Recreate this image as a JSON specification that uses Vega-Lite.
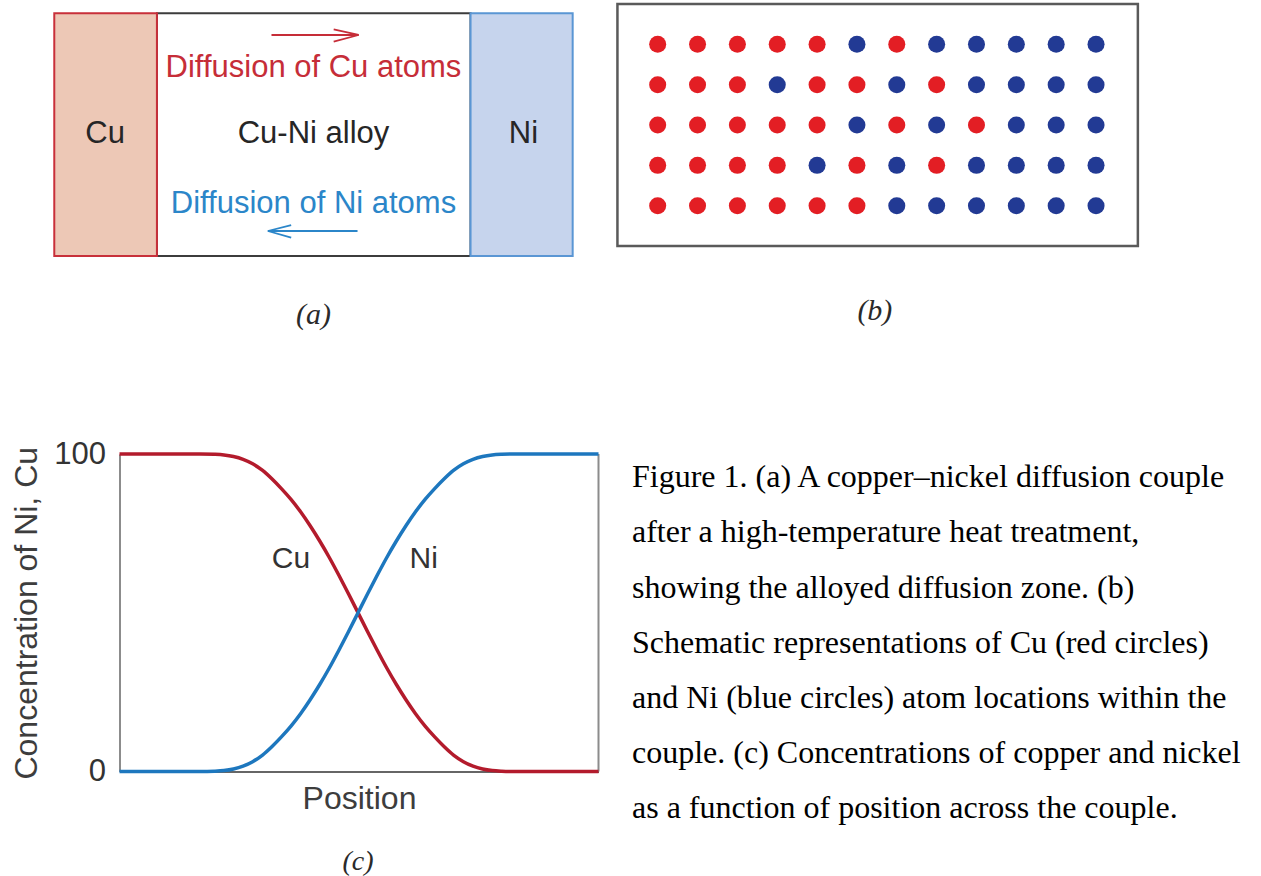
{
  "$schema": "https://vega.github.io/schema/vega-lite/v6.json",
  "padding": 0,
  "background": "white",
  "config": {"view": {"stroke": null}},
  "spacing": 98,
  "resolve": {"scale": {"color": "independent", "fill": "independent", "stroke": "independent"}},
  "vconcat": [
    {
      "bounds": "flush",
      "spacing": 0,
      "resolve": {"scale": {"color": "independent", "fill": "independent", "stroke": "independent"}},
      "hconcat": [
        {
          "width": 596,
          "height": 340,
          "layer": [
            {
              "data": {"values": [
                {"part": "alloy", "x": 19.8, "xe": 80.3, "y": 0, "ye": 100},
                {"part": "Cu", "x": 0, "xe": 19.8, "y": 0, "ye": 100},
                {"part": "Ni", "x": 80.3, "xe": 100, "y": 0, "ye": 100}
              ]},
              "mark": {"type": "rect", "strokeWidth": 2},
              "encoding": {
                "x": {"field": "x", "type": "quantitative", "scale": {"domain": [-10.47, 104.5], "nice": false, "zero": false}, "axis": null},
                "x2": {"field": "xe"},
                "y": {"field": "y", "type": "quantitative", "scale": {"domain": [-34.61, 105.48], "nice": false, "zero": false}, "axis": null},
                "y2": {"field": "ye"},
                "fill": {"field": "part", "type": "nominal", "scale": {"domain": ["alloy", "Cu", "Ni"], "range": ["#ffffff", "#EDC8B6", "#C6D4ED"]}, "legend": null},
                "stroke": {"field": "part", "type": "nominal", "scale": {"domain": ["alloy", "Cu", "Ni"], "range": ["#3c3c3c", "#C8303A", "#5A96D4"]}, "legend": null}
              }
            },
            {
              "data": {"values": [
                {"kind": "Cu", "x": 41.9, "xe": 58.7, "y": 91.06, "ye": 91.06},
                {"kind": "Cu", "x": 58.7, "xe": 53.9, "y": 91.06, "ye": 93.41},
                {"kind": "Cu", "x": 58.7, "xe": 53.9, "y": 91.06, "ye": 88.3},
                {"kind": "Ni", "x": 41.2, "xe": 58.5, "y": 10.3, "ye": 10.3},
                {"kind": "Ni", "x": 41.2, "xe": 45.7, "y": 10.3, "ye": 12.77},
                {"kind": "Ni", "x": 41.2, "xe": 45.7, "y": 10.3, "ye": 7.54}
              ]},
              "mark": {"type": "rule", "strokeWidth": 1.8},
              "encoding": {
                "x": {"field": "x", "type": "quantitative", "scale": {"domain": [-10.47, 104.5], "nice": false, "zero": false}, "axis": null},
                "x2": {"field": "xe"},
                "y": {"field": "y", "type": "quantitative", "scale": {"domain": [-34.61, 105.48], "nice": false, "zero": false}, "axis": null},
                "y2": {"field": "ye"},
                "color": {"field": "kind", "type": "nominal", "scale": {"domain": ["Cu", "Ni", "dark"], "range": ["#C62D38", "#2B86C9", "#262626"]}, "legend": null}
              }
            },
            {
              "data": {"values": [
                {"kind": "Cu", "x": 50, "y": 73.75, "label": "Diffusion of Cu atoms"},
                {"kind": "dark", "x": 50, "y": 46.56, "label": "Cu-Ni alloy"},
                {"kind": "Ni", "x": 50, "y": 17.72, "label": "Diffusion of Ni atoms"},
                {"kind": "dark", "x": 9.8, "y": 46.56, "label": "Cu"},
                {"kind": "dark", "x": 90.5, "y": 46.56, "label": "Ni"}
              ]},
              "mark": {"type": "text", "font": "Liberation Sans", "fontSize": 31, "align": "center", "baseline": "alphabetic"},
              "encoding": {
                "x": {"field": "x", "type": "quantitative", "scale": {"domain": [-10.47, 104.5], "nice": false, "zero": false}, "axis": null},
                "y": {"field": "y", "type": "quantitative", "scale": {"domain": [-34.61, 105.48], "nice": false, "zero": false}, "axis": null},
                "text": {"field": "label"},
                "color": {"field": "kind", "type": "nominal", "scale": {"domain": ["Cu", "Ni", "dark"], "range": ["#C62D38", "#2B86C9", "#262626"]}, "legend": null}
              }
            },
            {
              "data": {"values": [{"x": 50, "y": -24.3, "label": "(a)"}]},
              "mark": {"type": "text", "font": "Liberation Serif", "fontStyle": "italic", "fontSize": 30, "align": "center", "baseline": "middle", "color": "#2a2a2a"},
              "encoding": {
                "x": {"field": "x", "type": "quantitative", "scale": {"domain": [-10.47, 104.5], "nice": false, "zero": false}, "axis": null},
                "y": {"field": "y", "type": "quantitative", "scale": {"domain": [-34.61, 105.48], "nice": false, "zero": false}, "axis": null},
                "text": {"field": "label"}
              }
            }
          ]
        },
        {
          "width": 665,
          "height": 340,
          "layer": [
            {
              "data": {"values": [{"col": -0.01, "cole": 13.05, "row": 0, "rowe": 6}]},
              "mark": {"type": "rect", "filled": false, "color": "#5a5a5a", "strokeWidth": 2.5},
              "encoding": {
                "x": {"field": "col", "type": "quantitative", "scale": {"domain": [-0.548, 16.14], "nice": false, "zero": false}, "axis": null},
                "x2": {"field": "cole"},
                "y": {"field": "row", "type": "quantitative", "scale": {"domain": [-0.098, 8.328], "nice": false, "zero": false, "reverse": true}, "axis": null},
                "y2": {"field": "rowe"}
              }
            },
            {
              "data": {"values": [
                {"col": 1, "row": 1, "atom": "Cu"}, {"col": 2, "row": 1, "atom": "Cu"}, {"col": 3, "row": 1, "atom": "Cu"}, {"col": 4, "row": 1, "atom": "Cu"}, {"col": 5, "row": 1, "atom": "Cu"}, {"col": 6, "row": 1, "atom": "Ni"}, {"col": 7, "row": 1, "atom": "Cu"}, {"col": 8, "row": 1, "atom": "Ni"}, {"col": 9, "row": 1, "atom": "Ni"}, {"col": 10, "row": 1, "atom": "Ni"}, {"col": 11, "row": 1, "atom": "Ni"}, {"col": 12, "row": 1, "atom": "Ni"},
                {"col": 1, "row": 2, "atom": "Cu"}, {"col": 2, "row": 2, "atom": "Cu"}, {"col": 3, "row": 2, "atom": "Cu"}, {"col": 4, "row": 2, "atom": "Ni"}, {"col": 5, "row": 2, "atom": "Cu"}, {"col": 6, "row": 2, "atom": "Cu"}, {"col": 7, "row": 2, "atom": "Ni"}, {"col": 8, "row": 2, "atom": "Cu"}, {"col": 9, "row": 2, "atom": "Ni"}, {"col": 10, "row": 2, "atom": "Ni"}, {"col": 11, "row": 2, "atom": "Ni"}, {"col": 12, "row": 2, "atom": "Ni"},
                {"col": 1, "row": 3, "atom": "Cu"}, {"col": 2, "row": 3, "atom": "Cu"}, {"col": 3, "row": 3, "atom": "Cu"}, {"col": 4, "row": 3, "atom": "Cu"}, {"col": 5, "row": 3, "atom": "Cu"}, {"col": 6, "row": 3, "atom": "Ni"}, {"col": 7, "row": 3, "atom": "Cu"}, {"col": 8, "row": 3, "atom": "Ni"}, {"col": 9, "row": 3, "atom": "Cu"}, {"col": 10, "row": 3, "atom": "Ni"}, {"col": 11, "row": 3, "atom": "Ni"}, {"col": 12, "row": 3, "atom": "Ni"},
                {"col": 1, "row": 4, "atom": "Cu"}, {"col": 2, "row": 4, "atom": "Cu"}, {"col": 3, "row": 4, "atom": "Cu"}, {"col": 4, "row": 4, "atom": "Cu"}, {"col": 5, "row": 4, "atom": "Ni"}, {"col": 6, "row": 4, "atom": "Cu"}, {"col": 7, "row": 4, "atom": "Ni"}, {"col": 8, "row": 4, "atom": "Cu"}, {"col": 9, "row": 4, "atom": "Ni"}, {"col": 10, "row": 4, "atom": "Ni"}, {"col": 11, "row": 4, "atom": "Ni"}, {"col": 12, "row": 4, "atom": "Ni"},
                {"col": 1, "row": 5, "atom": "Cu"}, {"col": 2, "row": 5, "atom": "Cu"}, {"col": 3, "row": 5, "atom": "Cu"}, {"col": 4, "row": 5, "atom": "Cu"}, {"col": 5, "row": 5, "atom": "Cu"}, {"col": 6, "row": 5, "atom": "Cu"}, {"col": 7, "row": 5, "atom": "Ni"}, {"col": 8, "row": 5, "atom": "Ni"}, {"col": 9, "row": 5, "atom": "Ni"}, {"col": 10, "row": 5, "atom": "Ni"}, {"col": 11, "row": 5, "atom": "Ni"}, {"col": 12, "row": 5, "atom": "Ni"}
              ]},
              "mark": {"type": "point", "shape": "circle", "filled": true, "size": 290, "opacity": 1},
              "encoding": {
                "x": {"field": "col", "type": "quantitative", "scale": {"domain": [-0.548, 16.14], "nice": false, "zero": false}, "axis": null},
                "y": {"field": "row", "type": "quantitative", "scale": {"domain": [-0.098, 8.328], "nice": false, "zero": false, "reverse": true}, "axis": null},
                "color": {"field": "atom", "type": "nominal", "scale": {"domain": ["Cu", "Ni"], "range": ["#E31E24", "#223A94"]}, "legend": null}
              }
            },
            {
              "data": {"values": [{"col": 6.45, "row": 7.61, "label": "(b)"}]},
              "mark": {"type": "text", "font": "Liberation Serif", "fontStyle": "italic", "fontSize": 30, "align": "center", "baseline": "middle", "color": "#2a2a2a"},
              "encoding": {
                "x": {"field": "col", "type": "quantitative", "scale": {"domain": [-0.548, 16.14], "nice": false, "zero": false}, "axis": null},
                "y": {"field": "row", "type": "quantitative", "scale": {"domain": [-0.098, 8.328], "nice": false, "zero": false, "reverse": true}, "axis": null},
                "text": {"field": "label"}
              }
            }
          ]
        }
      ]
    },
    {
      "bounds": "flush",
      "spacing": 33.5,
      "resolve": {"scale": {"color": "independent", "fill": "independent", "stroke": "independent"}},
      "hconcat": [
        {
          "width": 86,
          "height": 10,
          "data": {"values": []},
          "mark": "text",
          "encoding": {}
        },
        {
          "width": 479,
          "height": 317.5,
          "encoding": {
            "x": {"field": "pos", "type": "quantitative", "scale": {"domain": [0, 100], "nice": false, "zero": false},
              "axis": {"title": "Position", "labels": false, "ticks": false, "tickSize": 0, "grid": false, "domainColor": "#666666", "domainWidth": 2, "titleFont": "Liberation Sans", "titleFontSize": 32, "titleFontWeight": "normal", "titleColor": "#3d3d3d", "titlePadding": 12}},
            "y": {"field": "conc", "type": "quantitative", "scale": {"domain": [0, 100], "nice": false, "zero": false},
              "axis": {"title": "Concentration of Ni, Cu", "values": [0, 100], "format": "d", "ticks": false, "tickSize": 0, "grid": false, "domainColor": "#8c8c8c", "domainWidth": 2, "labelFont": "Liberation Sans", "labelFontSize": 31, "labelColor": "#333333", "labelPadding": 14, "labelFlush": false, "labelOverlap": false, "titleFont": "Liberation Sans", "titleFontSize": 32, "titleFontWeight": "normal", "titleColor": "#3d3d3d", "titlePadding": 10.5}}
          },
          "layer": [
            {
              "data": {"values": [{"pos": 100, "conc": 0, "top": 100}]},
              "mark": {"type": "rule", "color": "#8c8c8c", "strokeWidth": 2},
              "encoding": {"y2": {"field": "top"}}
            },
            {
              "data": {"values": [
                {"metal": "Cu", "pos": 0, "conc": 100}, {"metal": "Cu", "pos": 16.8, "conc": 100}, {"metal": "Cu", "pos": 19.8, "conc": 99.9}, {"metal": "Cu", "pos": 21.8, "conc": 99.7}, {"metal": "Cu", "pos": 23.8, "conc": 99.2}, {"metal": "Cu", "pos": 25.8, "conc": 98.3}, {"metal": "Cu", "pos": 27.8, "conc": 96.9}, {"metal": "Cu", "pos": 29.8, "conc": 94.9}, {"metal": "Cu", "pos": 31.8, "conc": 92.2}, {"metal": "Cu", "pos": 33.8, "conc": 89.1}, {"metal": "Cu", "pos": 35.8, "conc": 85.7}, {"metal": "Cu", "pos": 37.8, "conc": 81.8}, {"metal": "Cu", "pos": 39.8, "conc": 77.4}, {"metal": "Cu", "pos": 41.8, "conc": 72.6}, {"metal": "Cu", "pos": 43.8, "conc": 67.4}, {"metal": "Cu", "pos": 45.8, "conc": 61.8}, {"metal": "Cu", "pos": 47.8, "conc": 56}, {"metal": "Cu", "pos": 49.8, "conc": 50}, {"metal": "Cu", "pos": 51.8, "conc": 44}, {"metal": "Cu", "pos": 53.8, "conc": 38.2}, {"metal": "Cu", "pos": 55.8, "conc": 32.6}, {"metal": "Cu", "pos": 57.8, "conc": 27.4}, {"metal": "Cu", "pos": 59.8, "conc": 22.6}, {"metal": "Cu", "pos": 61.8, "conc": 18.2}, {"metal": "Cu", "pos": 63.8, "conc": 14.3}, {"metal": "Cu", "pos": 65.8, "conc": 10.9}, {"metal": "Cu", "pos": 67.8, "conc": 7.8}, {"metal": "Cu", "pos": 69.8, "conc": 5.1}, {"metal": "Cu", "pos": 71.8, "conc": 3.1}, {"metal": "Cu", "pos": 73.8, "conc": 1.7}, {"metal": "Cu", "pos": 75.8, "conc": 0.8}, {"metal": "Cu", "pos": 77.8, "conc": 0.3}, {"metal": "Cu", "pos": 79.8, "conc": 0.1}, {"metal": "Cu", "pos": 82.8, "conc": 0}, {"metal": "Cu", "pos": 100, "conc": 0},
                {"metal": "Ni", "pos": 0, "conc": 0}, {"metal": "Ni", "pos": 16.8, "conc": 0}, {"metal": "Ni", "pos": 19.8, "conc": 0.1}, {"metal": "Ni", "pos": 21.8, "conc": 0.3}, {"metal": "Ni", "pos": 23.8, "conc": 0.8}, {"metal": "Ni", "pos": 25.8, "conc": 1.7}, {"metal": "Ni", "pos": 27.8, "conc": 3.1}, {"metal": "Ni", "pos": 29.8, "conc": 5.1}, {"metal": "Ni", "pos": 31.8, "conc": 7.8}, {"metal": "Ni", "pos": 33.8, "conc": 10.9}, {"metal": "Ni", "pos": 35.8, "conc": 14.3}, {"metal": "Ni", "pos": 37.8, "conc": 18.2}, {"metal": "Ni", "pos": 39.8, "conc": 22.6}, {"metal": "Ni", "pos": 41.8, "conc": 27.4}, {"metal": "Ni", "pos": 43.8, "conc": 32.6}, {"metal": "Ni", "pos": 45.8, "conc": 38.2}, {"metal": "Ni", "pos": 47.8, "conc": 44}, {"metal": "Ni", "pos": 49.8, "conc": 50}, {"metal": "Ni", "pos": 51.8, "conc": 56}, {"metal": "Ni", "pos": 53.8, "conc": 61.8}, {"metal": "Ni", "pos": 55.8, "conc": 67.4}, {"metal": "Ni", "pos": 57.8, "conc": 72.6}, {"metal": "Ni", "pos": 59.8, "conc": 77.4}, {"metal": "Ni", "pos": 61.8, "conc": 81.8}, {"metal": "Ni", "pos": 63.8, "conc": 85.7}, {"metal": "Ni", "pos": 65.8, "conc": 89.1}, {"metal": "Ni", "pos": 67.8, "conc": 92.2}, {"metal": "Ni", "pos": 69.8, "conc": 94.9}, {"metal": "Ni", "pos": 71.8, "conc": 96.9}, {"metal": "Ni", "pos": 73.8, "conc": 98.3}, {"metal": "Ni", "pos": 75.8, "conc": 99.2}, {"metal": "Ni", "pos": 77.8, "conc": 99.7}, {"metal": "Ni", "pos": 79.8, "conc": 99.9}, {"metal": "Ni", "pos": 82.8, "conc": 100}, {"metal": "Ni", "pos": 100, "conc": 100}
              ]},
              "mark": {"type": "line", "strokeWidth": 3.5, "interpolate": "monotone"},
              "encoding": {
                "color": {"field": "metal", "type": "nominal", "scale": {"domain": ["Cu", "Ni"], "range": ["#B31B2C", "#1D77BE"]}, "legend": null}
              }
            },
            {
              "data": {"values": [
                {"pos": 35.8, "conc": 64.25, "label": "Cu"},
                {"pos": 63.5, "conc": 64.25, "label": "Ni"}
              ]},
              "mark": {"type": "text", "font": "Liberation Sans", "fontSize": 30, "align": "center", "baseline": "alphabetic", "color": "#333333"},
              "encoding": {"text": {"field": "label"}}
            },
            {
              "data": {"values": [{"pos": 49.8, "conc": -28.5, "label": "(c)"}]},
              "mark": {"type": "text", "font": "Liberation Serif", "fontStyle": "italic", "fontSize": 28, "align": "center", "baseline": "middle", "color": "#2a2a2a"},
              "encoding": {"text": {"field": "label"}}
            }
          ]
        },
        {
          "width": 629,
          "height": 400,
          "data": {"values": [
            {"line": 1, "text": "Figure 1. (a) A copper–nickel diffusion couple"},
            {"line": 2, "text": "after a high-temperature heat treatment,"},
            {"line": 3, "text": "showing the alloyed diffusion zone. (b)"},
            {"line": 4, "text": "Schematic representations of Cu (red circles)"},
            {"line": 5, "text": "and Ni (blue circles) atom locations within the"},
            {"line": 6, "text": "couple. (c) Concentrations of copper and nickel"},
            {"line": 7, "text": "as a function of position across the couple."}
          ]},
          "mark": {"type": "text", "align": "left", "baseline": "alphabetic", "font": "Liberation Serif", "fontSize": 32, "color": "#000000"},
          "encoding": {
            "x": {"datum": 0, "type": "quantitative", "scale": {"domain": [0, 1], "nice": false, "zero": false}, "axis": null},
            "y": {"field": "line", "type": "quantitative", "scale": {"domain": [0.3935, 7.657], "nice": false, "zero": false, "reverse": true}, "axis": null},
            "text": {"field": "text"}
          }
        }
      ]
    }
  ]
}
